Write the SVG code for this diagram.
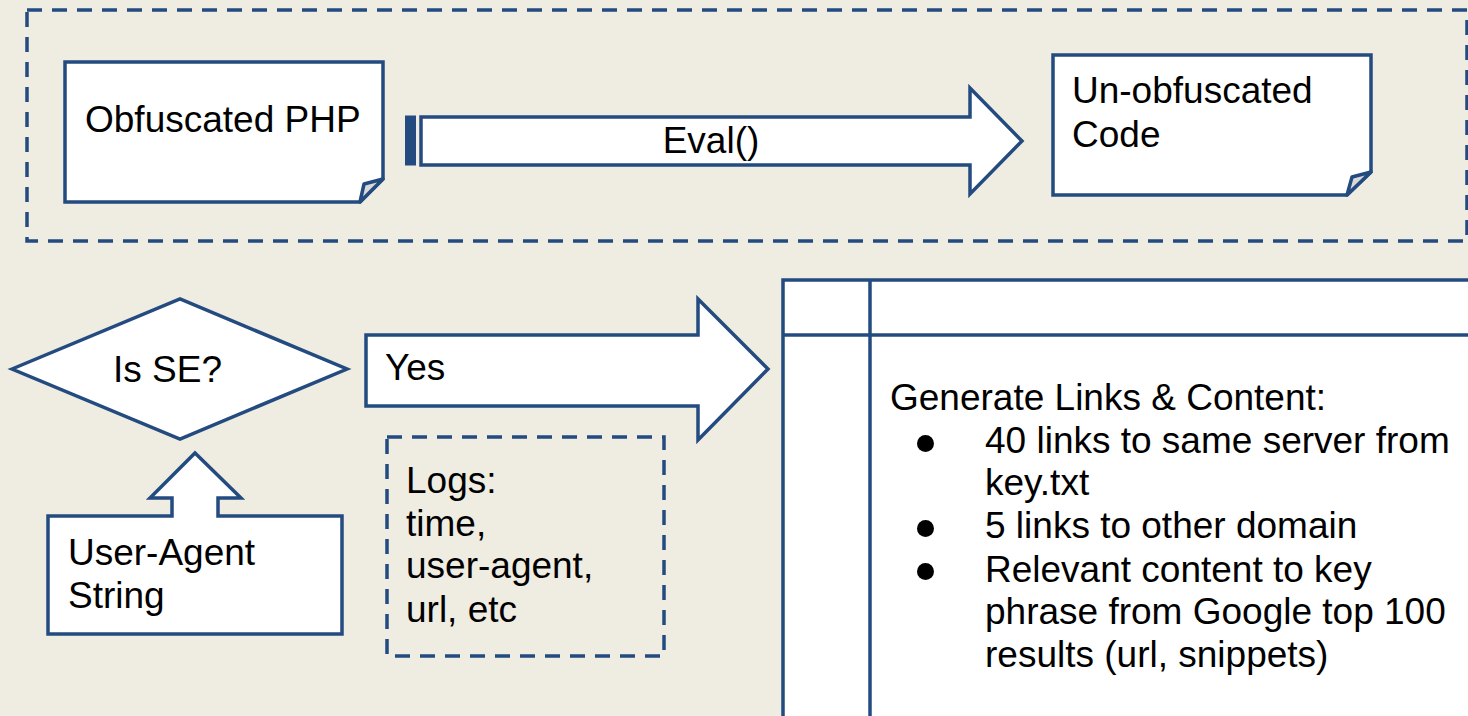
<svg xmlns="http://www.w3.org/2000/svg" width="1468" height="716" viewBox="0 0 1468 716">
  <style>
    .shape { fill: #ffffff; stroke: #234b80; stroke-width: 3.5; stroke-linejoin: miter; }
    .dash { fill: none; stroke: #234b80; stroke-width: 3.5; stroke-dasharray: 15 10; }
    .fold { fill: #d9d9d9; stroke: #234b80; stroke-width: 3.5; stroke-linejoin: round; }
    .line { fill: none; stroke: #234b80; stroke-width: 3.5; }
    text { font-family: "Liberation Sans", Arial, sans-serif; font-size: 37px; fill: #000000; }
    .bullet { fill: #000000; }
  </style>

  <!-- page background -->
  <rect x="0" y="0" width="1468" height="716" fill="#efece2"/>

  <!-- de-obfuscation stage frame -->
  <g id="stage-frame">
    <rect class="dash" x="27" y="10" width="1440" height="231"/>
  </g>

  <g id="obfuscated-php">
    <path class="shape" d="M65,62 H383 V179 L360,202 H65 Z"/>
    <path class="fold" d="M383,179 L364,184 L360,202 Z"/>
    <text x="85" y="132">Obfuscated PHP</text>
  </g>

  <g id="unobfuscated-code">
    <path class="shape" d="M1053,55 H1371 V172 L1347,195 H1053 Z"/>
    <path class="fold" d="M1371,172 L1352,177 L1347,195 Z"/>
    <text x="1072" y="103">Un-obfuscated</text>
    <text x="1072" y="147">Code</text>
  </g>

  <g id="is-se">
    <polygon class="shape" points="12,369 180,299 347,369 180,439"/>
    <text x="113" y="382">Is SE?</text>
  </g>

  <g id="user-agent">
    <path class="shape" d="M48,516 H172 V498 H150 L195,453 L241,498 H218 V516 H342 V634 H48 Z"/>
    <text x="68" y="565">User-Agent</text>
    <text x="68" y="608">String</text>
  </g>

  <g id="logs">
    <rect class="dash" x="387" y="437" width="277" height="219"/>
    <text x="406" y="493">Logs:</text>
    <text x="406" y="536">time,</text>
    <text x="406" y="578">user-agent,</text>
    <text x="406" y="622">url, etc</text>
  </g>

  <g id="generate">
    <rect class="shape" x="783" y="280" width="720" height="480"/>
    <line class="line" x1="783" y1="335" x2="1468" y2="335"/>
    <line class="line" x1="870" y1="280" x2="870" y2="716"/>
    <text x="890" y="410">Generate Links &amp; Content:</text>
    <circle class="bullet" cx="925.5" cy="443.5" r="8.5"/>
    <text x="985" y="453">40 links to same server from</text>
    <text x="985" y="495">key.txt</text>
    <circle class="bullet" cx="925.5" cy="528.5" r="8.5"/>
    <text x="985" y="538">5 links to other domain</text>
    <circle class="bullet" cx="925.5" cy="571.5" r="8.5"/>
    <text x="985" y="582">Relevant content to key</text>
    <text x="985" y="624">phrase from Google top 100</text>
    <text x="985" y="667">results (url, snippets)</text>
  </g>

  <!-- block arrows between steps -->
  <g id="connectors">
    <g id="eval-arrow">
      <rect x="406.5" y="117" width="8" height="47" fill="#234b80" stroke="#234b80" stroke-width="3"/>
      <polygon class="shape" points="421,117 970,117 970,88 1022,141 970,194 970,165 421,165"/>
      <text x="711" y="153" text-anchor="middle">Eval()</text>
    </g>
    <g id="yes-arrow">
      <polygon class="shape" points="366,335 698,335 698,299 768,369 698,440 698,406 366,406"/>
      <text x="385" y="380">Yes</text>
    </g>
  </g>
</svg>
